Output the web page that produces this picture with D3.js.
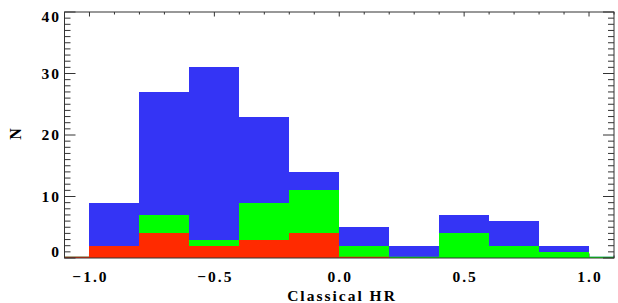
<!DOCTYPE html>
<html>
<head>
<meta charset="utf-8">
<script src="https://cdn.jsdelivr.net/npm/d3@7"></script>
<style>
  body { margin: 0; background: #fff; }
  svg text { font-family: "Liberation Serif", serif; font-size: 15.5px; font-weight: bold; letter-spacing: 2px; fill: #000; }
</style>
</head>
<body>
<svg id="chart" width="618" height="303"></svg>
<script>
// histogram bins (left edges, width 0.2)
var binStarts = [-1.2, -1.0, -0.8, -0.6, -0.4, -0.2, 0.0, 0.2, 0.4, 0.6, 0.8, 1.0];
var binWidth = 0.2;
var allCounts = [0, 9, 27, 31, 23, 14, 5, 2, 7, 6, 2, 0];
var greenCounts = [0, 2, 7, 3, 9, 11, 2, 0, 4, 2, 1, 0];
var redCounts = [0, 2, 4, 2, 3, 4, 0];

var xTicks = [-1.0, -0.5, 0.0, 0.5, 1.0];
var yTicks = [0, 10, 20, 30, 40];

var svg = d3.select("#chart");
const plotLeft = 64.5, plotRight = 614, plotTop = 12, plotBottom = 258;

var x = d3.scaleLinear().domain([-1.1, 1.1]).range([plotLeft, plotRight]);
var y = d3.scaleLinear().domain([0, 40]).range([plotBottom, plotTop]);

svg.append("defs").append("clipPath").attr("id", "plotclip")
  .append("rect")
  .attr("x", plotLeft).attr("y", plotTop - 2)
  .attr("width", plotRight - plotLeft).attr("height", plotBottom - plotTop + 2);

// bottom ticks go under the bars
var minorX = d3.range(-11, 12).map(function (i) { return i / 10; });
var axisColor = "#333";
function isMajorX(v) { return Math.abs(v * 2 - Math.round(v * 2)) < 1e-6; }

svg.append("g").attr("stroke", axisColor)
  .selectAll("line").data(minorX).join("line")
  .attr("x1", function (d) { return x(d); })
  .attr("x2", function (d) { return x(d); })
  .attr("y1", plotBottom)
  .attr("y2", function (d) { return plotBottom - (isMajorX(d) ? 4.5 : 2.5); });

var plot = svg.append("g").attr("clip-path", "url(#plotclip)");

function drawHist(counts, color) {
  var data = counts.map(function (c, i) { return { x0: binStarts[i], n: c }; });
  plot.append("g").selectAll("rect")
    .data(data.filter(function (d) { return d.n > 0; }))
    .join("rect")
    .attr("x", function (d) { return x(d.x0); })
    .attr("width", function (d) { return x(d.x0 + binWidth) - x(d.x0); })
    .attr("y", function (d) { return y(d.n); })
    .attr("height", function (d) { return y(0) - y(d.n); })
    .attr("fill", color)
    .attr("shape-rendering", "crispEdges");
  // empty bins show as a thin line on the baseline
  plot.append("g").selectAll("line")
    .data(data.filter(function (d) { return d.n === 0; }))
    .join("line")
    .attr("x1", function (d) { return x(d.x0); })
    .attr("x2", function (d) { return x(d.x0 + binWidth); })
    .attr("y1", y(0) - 0.5)
    .attr("y2", y(0) - 0.5)
    .attr("stroke", color)
    .attr("stroke-width", 1.5);
}

drawHist(allCounts, "#3434f5");
drawHist(greenCounts, "#00ff00");
drawHist(redCounts, "#ff2a00");

// frame
svg.append("rect")
  .attr("x", plotLeft).attr("y", plotTop)
  .attr("width", plotRight - plotLeft).attr("height", plotBottom - plotTop)
  .attr("fill", "none").attr("stroke", axisColor).attr("stroke-width", 1);

// top ticks
svg.append("g").attr("stroke", axisColor).selectAll("line").data(minorX).join("line")
  .attr("x1", function (d) { return x(d); })
  .attr("x2", function (d) { return x(d); })
  .attr("y1", plotTop)
  .attr("y2", function (d) { return plotTop + (isMajorX(d) ? 4.5 : 2.5); });

// left / right ticks
var minorY = d3.range(0, 41);
var tickY = svg.append("g").attr("stroke", axisColor);
tickY.selectAll("line.l").data(minorY).join("line").attr("class", "l")
  .attr("x1", plotLeft)
  .attr("x2", function (d) { return plotLeft + (d % 10 === 0 ? 11 : 6); })
  .attr("y1", function (d) { return y(d); })
  .attr("y2", function (d) { return y(d); });
tickY.selectAll("line.r").data(minorY).join("line").attr("class", "r")
  .attr("x1", plotRight)
  .attr("x2", function (d) { return plotRight - (d % 10 === 0 ? 11 : 6); })
  .attr("y1", function (d) { return y(d); })
  .attr("y2", function (d) { return y(d); });

// tick labels
svg.append("g").selectAll("text").data(xTicks).join("text")
  .attr("x", function (d) { return x(d) + 1; })
  .attr("y", 281.5)
  .attr("text-anchor", "middle")
  .text(function (d) { return d3.format(".1f")(d).replace("-", "\u2212"); });

svg.append("g").selectAll("text").data(yTicks).join("text")
  .attr("x", 59 + 2)
  .attr("y", function (d) {
    return Math.min(Math.max(y(d), plotTop + 5), plotBottom - 6);
  })
  .attr("dy", "0.33em")
  .attr("text-anchor", "end")
  .text(function (d) { return d; });

// axis titles
svg.append("text")
  .attr("x", 341 + 1).attr("y", 301)
  .attr("text-anchor", "middle")
  .text("Classical HR");

svg.append("text")
  .attr("transform", "translate(21,133) rotate(-90)")
  .attr("text-anchor", "middle")
  .style("font-size", "16px")
  .text("N");
</script>
</body>
</html>
